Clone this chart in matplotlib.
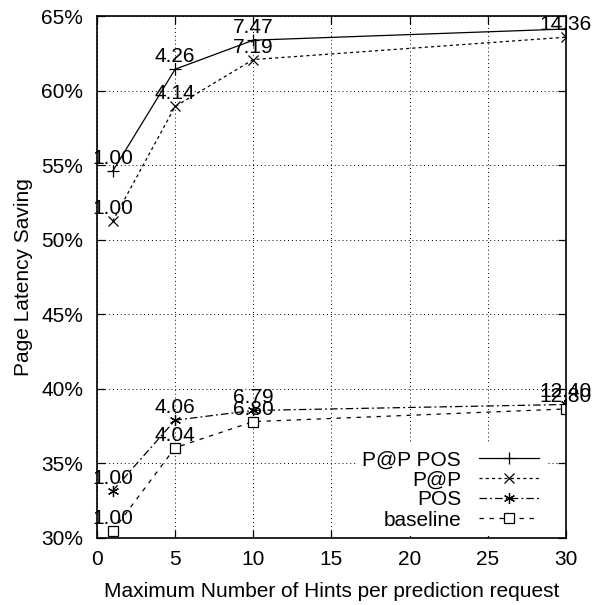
import matplotlib
matplotlib.use('Agg')
import matplotlib.pyplot as plt
from matplotlib.ticker import FuncFormatter, MultipleLocator

plt.rcParams['font.family'] = ['Liberation Sans', 'DejaVu Sans']
plt.rcParams['font.size'] = 15

# Hints per request (x) and page latency saving in percent (y)
hints = [1, 5, 10, 30]
ppp_pos = [54.6, 61.45, 63.4, 64.15]
ppp = [51.25, 58.95, 62.1, 63.6]
pos = [33.15, 37.9, 38.55, 38.95]
baseline = [30.45, 36.05, 37.8, 38.65]

# Text labels drawn above each point (None = clipped in the original)
ppp_pos_labels = ['1.00', '4.26', '7.47', None]
ppp_labels = ['1.00', '4.14', '7.19', '14.36']
pos_labels = ['1.00', '4.06', '6.79', '12.40']
baseline_labels = ['1.00', '4.04', '6.80', '12.80']

series_names = ['P@P POS', 'P@P', 'POS', 'baseline']

fig = plt.figure(figsize=(5.95, 6.05), dpi=100)
ax = fig.add_axes([0.163, 0.111, 0.788, 0.862])

lw = 0.9
ax.plot(hints, ppp_pos, color='black', lw=lw, linestyle='-', marker='+',
        markersize=8, markeredgewidth=0.9, label=series_names[0])
ax.plot(hints, ppp, color='black', lw=lw, linestyle=(0, (2.5, 2.5)), marker='x',
        markersize=7, markeredgewidth=0.9, label=series_names[1])
ax.plot(hints, pos, color='black', lw=lw, linestyle=(0, (6, 2.5, 1.5, 2.5)), marker=(6, 2, 0),
        markersize=8, markeredgewidth=0.9, label=series_names[2])
ax.plot(hints, baseline, color='black', lw=lw, linestyle=(0, (3.5, 4.5)), marker='s',
        markersize=6.5, markerfacecolor='white', markeredgewidth=0.9, label=series_names[3])

# Value labels above each point
for ys, labs in [(ppp_pos, ppp_pos_labels), (ppp, ppp_labels),
                 (pos, pos_labels), (baseline, baseline_labels)]:
    for x, y, t in zip(hints, ys, labs):
        if t is None:
            continue
        ax.annotate(t, (x, y), xytext=(0, 9), textcoords='offset points',
                    ha='center', va='center', fontsize=15)

ax.set_xlim(0, 30)
ax.set_ylim(30, 65)
ax.xaxis.set_major_locator(MultipleLocator(5))
ax.yaxis.set_major_locator(MultipleLocator(5))
ax.yaxis.set_major_formatter(FuncFormatter(lambda v, p: f'{v:.0f}%'))
ax.tick_params(direction='in', length=6, width=0.9, top=True, right=True,
               labelsize=15)
ax.tick_params(axis='x', pad=9)
ax.tick_params(axis='y', pad=10)
for s in ax.spines.values():
    s.set_linewidth(1.2)

ax.grid(True, color='black', linestyle=(0, (1, 3)), linewidth=0.7)
ax.set_axisbelow(True)

ax.set_xlabel('Maximum Number of Hints per prediction request', fontsize=15, labelpad=9)
ax.set_ylabel('Page Latency Saving', fontsize=15, labelpad=6)

leg = ax.legend(loc='lower right', bbox_to_anchor=(0.957, 0.004), markerfirst=False,
                handlelength=2.9, labelspacing=0.05, handletextpad=0.86,
                borderaxespad=0, borderpad=0.3, fancybox=False, framealpha=1,
                fontsize=15)
leg.get_frame().set_edgecolor('none')
leg.get_frame().set_facecolor('white')

fig.savefig('out.png', dpi=100)
